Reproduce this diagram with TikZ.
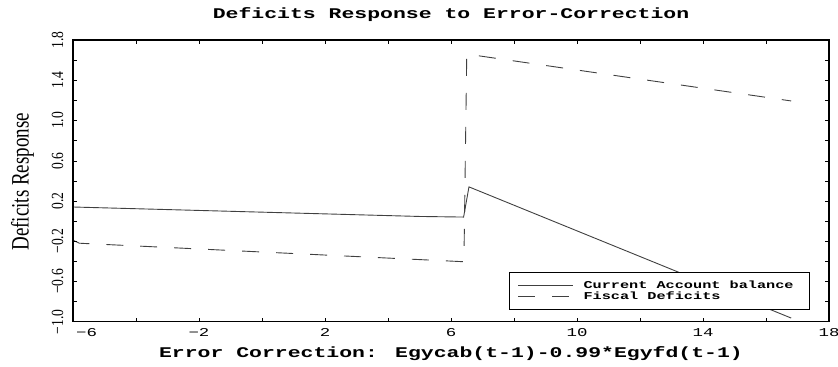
\documentclass[tikz,border=0pt]{standalone}
\usepackage{fontspec}
\usepackage{tikz}
\newfontfamily\plotmono[FakeStretch=1.45]{Liberation Mono}
\newfontfamily\plotserif[FakeStretch=0.8]{Liberation Serif}
\newfontfamily\plotnarrow[FakeStretch=0.76]{Liberation Serif}
\tikzset{
  frame/.style={line width=1.3pt},
  cab/.style={black!75, line width=0.9pt},
  fisc/.style={black!75, line width=0.9pt, dash pattern=on 17pt off 17pt},
  xlab/.style={font=\plotmono\fontsize{12}{14}\selectfont},
  ylab/.style={font=\plotserif\fontsize{17}{20}\selectfont, rotate=90},
  legtext/.style={anchor=west, inner sep=0pt, font=\plotmono\bfseries\fontsize{10.5}{12}\selectfont}
}

\begin{document}
\begin{tikzpicture}[x=31.5pt, y=100.6pt]
        \useasboundingbox (-8.3175,-1.4406) rectangle (18.2857,2.1976);
        % curves
        \draw[cab] (-6,0.14) -- (5,0.046) -- (6.4,0.04) -- (6.57,0.34) -- (16.8,-0.964);
        \draw[fisc] (-6,-0.19) -- (-5.8,-0.22) -- (6.41,-0.404) -- (6.5,1.66) -- (16.8,1.194);
        % frame and ticks
        \draw[frame] (-6,-1) rectangle (18,1.8);
        \foreach \t in {-4,-2,...,16} \draw[thin] (\t,-1) -- ++(0,4pt) (\t,1.8) -- ++(0,-4pt);
        \foreach \t in {-0.8,-0.6,...,1.7} \draw[thin] (-6,\t) -- ++(4pt,0) (18,\t) -- ++(-4pt,0);
        % axis numbers
        \node[xlab] (xm6) at (-5.57,-1.1056) {−6};
        \node[xlab] (xm2) at (-2,-1.1056) {−2};
        \node[xlab] (x2) at (2,-1.1056) {2};
        \node[xlab] (x6) at (6,-1.1056) {6};
        \node[xlab] (x10) at (10,-1.1056) {10};
        \node[xlab] (x14) at (14,-1.1056) {14};
        \node[xlab] (x18) at (18,-1.1056) {18};
        \node[ylab] (ym10) at (-6.49,-1.0) {−1.0};
        \node[ylab] (ym06) at (-6.49,-0.6) {−0.6};
        \node[ylab] (ym02) at (-6.49,-0.2) {−0.2};
        \node[ylab] (y02) at (-6.49,0.2) {0.2};
        \node[ylab] (y06) at (-6.49,0.6) {0.6};
        \node[ylab] (y10) at (-6.49,1.0) {1.0};
        \node[ylab] (y14) at (-6.49,1.4) {1.4};
        \node[ylab] (y18) at (-6.49,1.8) {1.8};
        % titles
        \node[font=\plotmono\bfseries\fontsize{14.8}{17}\selectfont] (title) at (6,2.0485) {Deficits Response to Error-Correction};
        \node[font=\plotmono\bfseries\fontsize{14.8}{17}\selectfont] (xtitle) at (6,-1.3143) {Error Correction: Egycab(t-1)-0.99*Egyfd(t-1)};
        \node[font=\plotnarrow\fontsize{25}{28}\selectfont, rotate=90] (ytitle) at (-7.6,0.39) {Deficits Response};
        % legend
        \draw[thin, fill=white] (7.851,-0.513) rectangle (17.365,-0.874);
        \coordinate (cabkey) at (8.127,-0.635);
        \coordinate (fisckey) at (8.127,-0.745);
        \node[legtext] (cabtext) at (10.2,-0.635) {Current Account balance};
        \node[legtext] (fisctext) at (10.2,-0.745) {Fiscal Deficits};
        \draw[cab] (cabkey) -- ++(54.7pt,0);
        \draw[fisc] (fisckey) -- ++(54.7pt,0);
      \end{tikzpicture}
\end{document}
